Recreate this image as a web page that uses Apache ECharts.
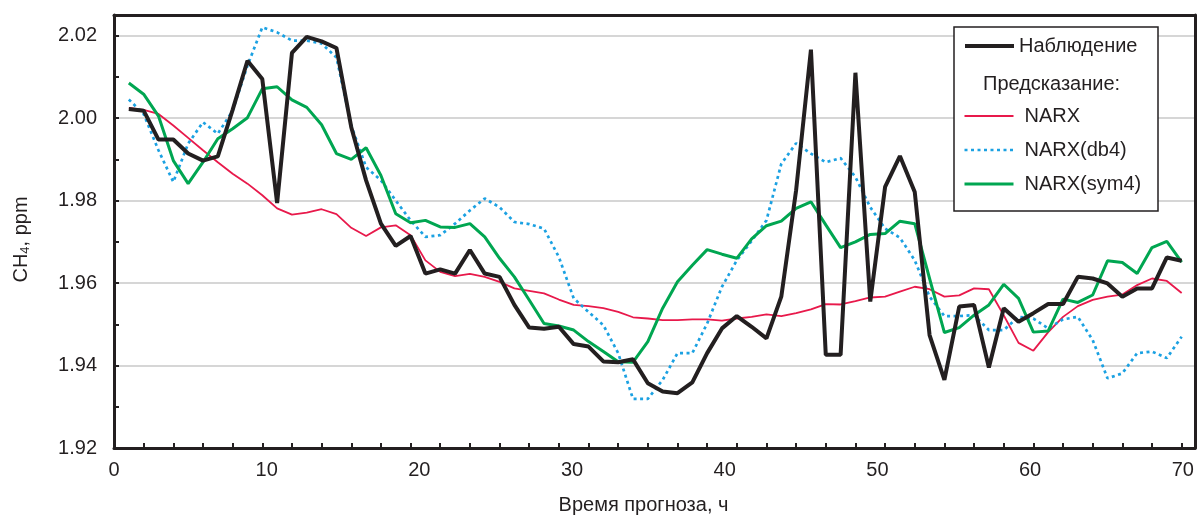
<!DOCTYPE html>
<html>
<head>
<meta charset="utf-8">
<title>CH4 forecast</title>
<script src="https://cdn.jsdelivr.net/npm/echarts@6/dist/echarts.min.js"></script>
<style>
  html, body { margin: 0; padding: 0; background: #fff; }
  #chart { width: 1200px; height: 517px; }
</style>
</head>
<body>
<div id="chart"></div>
<script>
// Forecast hours (one point per hour)
const hours = Array.from({ length: 72 }, (_, i) => i + 1);

// Observed CH4, ppm
const observed = [
  2.0022, 2.0018, 1.9948, 1.9948, 1.9914, 1.9897, 1.9907, 2.0020, 2.0139, 2.0095,
  1.9794, 2.0158, 2.0197, 2.0186, 2.0170, 1.9978, 1.9849, 1.9744, 1.9690, 1.9714,
  1.9623, 1.9633, 1.9623, 1.9680, 1.9623, 1.9615, 1.9547, 1.9492, 1.9489, 1.9494,
  1.9452, 1.9446, 1.9410, 1.9408, 1.9415, 1.9357, 1.9337, 1.9333, 1.9359, 1.9430,
  1.9490, 1.9520, 1.9494, 1.9466, 1.9567, 1.9825, 2.0166, 1.9426, 1.9426, 2.0110,
  1.9555, 1.9833, 1.9908, 1.9821, 1.9474, 1.9365, 1.9543, 1.9547, 1.9395, 1.9539,
  1.9506, 1.9527, 1.9549, 1.9549, 1.9615, 1.9611, 1.9599, 1.9567, 1.9587, 1.9587,
  1.9662, 1.9654
];

// NARX forecast
const narx = [
  2.0025, 2.0020, 2.0010, 1.9982, 1.9952, 1.9922, 1.9893, 1.9865, 1.9841, 1.9813,
  1.9781, 1.9766, 1.9771, 1.9779, 1.9767, 1.9734, 1.9714, 1.9735, 1.9740, 1.9716,
  1.9655, 1.9627, 1.9617, 1.9622, 1.9615, 1.9603, 1.9587, 1.9581, 1.9575, 1.9560,
  1.9547, 1.9544, 1.9539, 1.9530, 1.9517, 1.9514, 1.9510, 1.9510, 1.9512, 1.9512,
  1.9509, 1.9514, 1.9518, 1.9524, 1.9520, 1.9527, 1.9536, 1.9549, 1.9548, 1.9556,
  1.9565, 1.9567, 1.9579, 1.9591, 1.9585, 1.9567, 1.9570, 1.9587, 1.9585, 1.9522,
  1.9455, 1.9436, 1.9481, 1.9518, 1.9544, 1.9559, 1.9567, 1.9572, 1.9595, 1.9611,
  1.9605, 1.9576
];

// NARX forecast with db4 wavelet
const narxDb4 = [
  2.0045, 2.0010, 1.9922, 1.9845, 1.9938, 1.9990, 1.9962, 2.0018, 2.0127, 2.0220,
  2.0208, 2.0188, 2.0188, 2.0181, 2.0147, 1.9982, 1.9881, 1.9849, 1.9800, 1.9752,
  1.9712, 1.9716, 1.9744, 1.9776, 1.9805, 1.9784, 1.9748, 1.9743, 1.9732, 1.9663,
  1.9563, 1.9530, 1.9498, 1.9430, 1.9319, 1.9319, 1.9365, 1.9430, 1.9430, 1.9502,
  1.9591, 1.9655, 1.9702, 1.9752, 1.9889, 1.9939, 1.9914, 1.9893, 1.9903, 1.9857,
  1.9784, 1.9732, 1.9710, 1.9655, 1.9567, 1.9520, 1.9520, 1.9522, 1.9486, 1.9486,
  1.9518, 1.9514, 1.9490, 1.9512, 1.9518, 1.9462, 1.9369, 1.9381, 1.9430, 1.9434,
  1.9418, 1.9470
];

// NARX forecast with sym4 wavelet
const narxSym4 = [
  2.0085, 2.0058, 2.0005, 1.9897, 1.9841, 1.9893, 1.9950, 1.9974, 2.0001, 2.0071,
  2.0076, 2.0044, 2.0026, 1.9984, 1.9914, 1.9900, 1.9928, 1.9861, 1.9768, 1.9746,
  1.9752, 1.9736, 1.9735, 1.9744, 1.9712, 1.9660, 1.9615, 1.9559, 1.9502, 1.9496,
  1.9486, 1.9458, 1.9434, 1.9409, 1.9408, 1.9458, 1.9539, 1.9603, 1.9643, 1.9681,
  1.9670, 1.9660, 1.9707, 1.9739, 1.9750, 1.9781, 1.9797, 1.9741, 1.9686, 1.9700,
  1.9718, 1.9720, 1.9750, 1.9744, 1.9611, 1.9480, 1.9492, 1.9522, 1.9547, 1.9597,
  1.9563, 1.9481, 1.9484, 1.9561, 1.9553, 1.9571, 1.9654, 1.9650, 1.9623, 1.9686,
  1.9701, 1.9651
];

// Hour labels printed under the axis
const hourLabels = [0, 10, 20, 30, 40, 50, 60, 70];
const yTicks = [1.92, 1.94, 1.96, 1.98, 2.00, 2.02];

const INK = '#231f20';
const RED = '#e8194b';
const BLUE = '#1ba1e2';
const GREEN = '#00a651';
const FONT = "'Liberation Sans', Arial, sans-serif";

const observedLine = { color: INK, width: 4 };
const narxLine = { color: RED, width: 1.8 };
const db4Line = { color: BLUE, width: 2.7, type: [3, 3.5] };
const sym4Line = { color: GREEN, width: 3 };

const pairs = values => hours.map((h, i) => [h, values[i]]);

const frameLine = { show: true, onZero: false, lineStyle: { color: INK, width: 3 } };

const chart = echarts.init(document.getElementById('chart'), null, { renderer: 'canvas' });

chart.setOption({
  animation: false,
  backgroundColor: '#fff',
  textStyle: { fontFamily: FONT, color: INK },
  grid: {
    left: 114, right: 5, top: 15, bottom: 69,
    show: false, containLabel: false, outerBoundsMode: 'none'
  },
  xAxis: [
    {
      // hourly axis carrying the data and the tick marks
      type: 'value',
      position: 'bottom',
      min: 0,
      max: 72.9,
      interval: 2,
      axisLine: frameLine,
      axisTick: { show: true, inside: true, length: 5, lineStyle: { color: INK, width: 2 } },
      axisLabel: { show: false },
      splitLine: { show: false }
    },
    {
      // printed hour labels and axis title
      type: 'value',
      position: 'bottom',
      min: 0,
      max: 70.8,
      interval: 10,
      axisLine: { show: false, onZero: false },
      axisTick: { show: false },
      splitLine: { show: false },
      axisLabel: {
        show: true,
        margin: 12,
        fontSize: 20,
        color: INK,
        fontFamily: FONT,
        showMaxLabel: false,
        formatter: v => (hourLabels.includes(Math.round(v)) ? String(Math.round(v)) : '')
      },
      name: 'Время прогноза, ч',
      nameLocation: 'middle',
      nameGap: 47,
      nameTextStyle: { fontSize: 20, color: INK, fontFamily: FONT, padding: [0, 22, 0, 0] }
    },
    {
      // top frame edge
      type: 'value',
      position: 'top',
      min: 0,
      max: 1,
      axisLine: frameLine,
      axisTick: { show: false },
      axisLabel: { show: false },
      splitLine: { show: false }
    }
  ],
  yAxis: [
    {
      type: 'value',
      min: yTicks[0],
      max: 2.025,
      interval: 0.02,
      axisLine: frameLine,
      axisTick: { show: true, inside: true, length: 5, lineStyle: { color: INK, width: 2 } },
      minorTick: { show: true, splitNumber: 2, length: 5, lineStyle: { color: INK, width: 2 } },
      splitLine: { show: true, lineStyle: { color: '#c8c8c8', width: 1.7 } },
      axisLabel: {
        margin: 17,
        fontSize: 20,
        color: INK,
        fontFamily: FONT,
        showMaxLabel: false,
        formatter: v => v.toFixed(2)
      },
      name: '{a|CH}{s|4}{a|, ppm}',
      nameLocation: 'middle',
      nameGap: 82,
      nameTextStyle: {
        padding: [0, 16, 0, 0],
        rich: {
          a: { fontSize: 20, color: INK, fontFamily: FONT },
          s: { fontSize: 13, color: INK, fontFamily: FONT, verticalAlign: 'bottom', padding: [9, 0, 0, 0] }
        }
      }
    },
    {
      // right frame edge
      type: 'value',
      position: 'right',
      min: 0,
      max: 1,
      axisLine: frameLine,
      axisTick: { show: false },
      axisLabel: { show: false },
      splitLine: { show: false }
    }
  ],
  legend: [
    {
      data: [{ name: 'Наблюдение', lineStyle: observedLine }],
      left: 963,
      top: 36,
      padding: 0,
      itemWidth: 49,
      itemHeight: 20,
      z: 20,
      itemStyle: { opacity: 0 },
      textStyle: { fontSize: 20, color: INK, fontFamily: FONT },
      selectedMode: false
    },
    {
      data: [
        { name: 'NARX', lineStyle: narxLine },
        { name: 'NARX(db4)', lineStyle: db4Line },
        { name: 'NARX(sym4)', lineStyle: sym4Line }
      ],
      orient: 'vertical',
      left: 963,
      top: 106,
      padding: 0,
      itemWidth: 49,
      itemHeight: 20,
      itemGap: 14,
      z: 20,
      itemStyle: { opacity: 0 },
      textStyle: { fontSize: 20, color: INK, fontFamily: FONT, padding: [0, 0, 0, 6] },
      selectedMode: false
    }
  ],
  graphic: [
    {
      type: 'rect',
      z: 15,
      shape: { x: 954, y: 27, width: 204, height: 184 },
      style: { fill: '#fff', stroke: INK, lineWidth: 1.5 }
    },
    {
      type: 'text',
      z: 20,
      x: 983,
      y: 84,
      style: {
        text: 'Предсказание:',
        fontSize: 20,
        fontFamily: FONT,
        fill: INK,
        verticalAlign: 'middle'
      }
    }
  ],
  series: [
    {
      name: 'NARX',
      type: 'line',
      data: pairs(narx),
      symbol: 'none',
      color: RED,
      lineStyle: narxLine,
      z: 3
    },
    {
      name: 'NARX(db4)',
      type: 'line',
      data: pairs(narxDb4),
      symbol: 'none',
      color: BLUE,
      lineStyle: db4Line,
      z: 4
    },
    {
      name: 'NARX(sym4)',
      type: 'line',
      data: pairs(narxSym4),
      symbol: 'none',
      color: GREEN,
      lineStyle: sym4Line,
      z: 5
    },
    {
      name: 'Наблюдение',
      type: 'line',
      data: pairs(observed),
      symbol: 'none',
      color: INK,
      lineStyle: observedLine,
      z: 6
    }
  ]
});
</script>
</body>
</html>
